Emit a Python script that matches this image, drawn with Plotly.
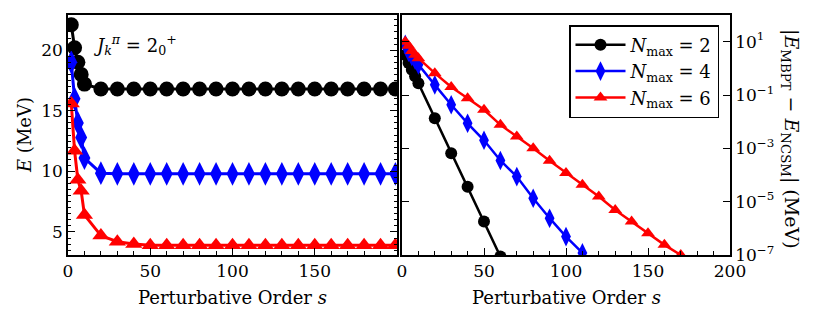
import plotly.graph_objects as go

# ---------------- data ----------------
S_LEFT = [2, 4, 6, 8, 10, 20, 30, 40, 50, 60, 70, 80, 90, 100, 110, 120,
          130, 140, 150, 160, 170, 180, 190, 199]
E_NMAX2 = [22.1, 20.2, 19.0, 18.0, 17.2, 16.8, 16.8, 16.8, 16.8, 16.8, 16.8, 16.8,
           16.8, 16.8, 16.8, 16.8, 16.8, 16.8, 16.8, 16.8, 16.8, 16.8, 16.8, 16.8]
E_NMAX4 = [19.0, 16.0, 14.0, 12.8, 11.1, 9.85, 9.8, 9.8, 9.8, 9.8, 9.8, 9.8,
           9.8, 9.8, 9.8, 9.8, 9.8, 9.8, 9.8, 9.8, 9.8, 9.8, 9.8, 9.8]
E_NMAX6 = [15.6, 11.7, 9.3, 8.4, 6.4, 4.7, 4.2, 4.0, 3.9, 3.9, 3.9, 3.9,
           3.9, 3.9, 3.9, 3.9, 3.9, 3.9, 3.9, 3.9, 3.9, 3.9, 3.9, 3.9]

S_R2 = [2, 4, 6, 8, 10, 20, 30, 40, 50, 60]
D_NMAX2 = [3.16, 1.58, 0.89, 0.50, 0.275, 1.35e-2, 6.6e-4, 3.6e-5, 1.8e-6, 8.7e-8]

S_R4 = [2, 4, 6, 8, 10, 20, 30, 40, 50, 60, 70, 80, 90, 100, 110]
D_NMAX4 = [7.9, 4.0, 2.8, 2.0, 1.35, 0.24, 4.3e-2, 8.7e-3, 2.0e-3, 3.5e-4,
           8.7e-5, 1.35e-5, 2.4e-6, 4.9e-7, 1.2e-7]

S_R6 = [2, 4, 6, 8, 10, 20, 30, 40, 50, 60, 70, 80, 90, 100, 110, 120,
        130, 140, 150, 160, 170]
D_NMAX6 = [10.0, 7.1, 4.5, 3.2, 2.4, 0.66, 0.20, 7.6e-2, 2.8e-2, 7.6e-3, 2.8e-3,
           1.0e-3, 3.4e-4, 1.2e-4, 4.3e-5, 1.55e-5, 4.9e-6, 1.8e-6, 6.6e-7,
           2.4e-7, 1.0e-7]

LEFT_YTICKS = [5, 10, 15, 20]
LEFT_XTICKS = [0, 50, 100, 150]
RIGHT_XTICKS = [0, 50, 100, 150, 200]
RIGHT_YTICKS = [1e1, 1e-1, 1e-3, 1e-5, 1e-7]
RIGHT_YTEXT = ["10<sup>1</sup>", "10<sup>−1</sup>", "10<sup>−3</sup>",
               "10<sup>−5</sup>", "10<sup>−7</sup>"]
LABELS = ["<i>N</i><sub>max</sub> = 2", "<i>N</i><sub>max</sub> = 4",
          "<i>N</i><sub>max</sub> = 6"]

# ---------------- styles ----------------
FONT = "DejaVu Serif"
COLORS = ["black", "blue", "red"]
SYMBOLS = ["circle", "diamond-tall", "triangle-up"]

# the page body adds an 8 px offset; compensate in figure size / margins
OFF = 8
W, H = 814 - OFF, 319 - OFF
PX0, PX1, PY0, PY1 = 68, 730, 15, 255          # plot area in page pixels
ML, MR, MT, MB = PX0 - OFF, 814 - PX1, PY0 - OFF, 319 - PY1
PW, PH = PX1 - PX0, PY1 - PY0


def px(xp):
    return (xp - PX0) / PW


def py(yp):
    return 1 - (yp - PY0) / PH


fig = go.Figure()

left_series = [E_NMAX2, E_NMAX4, E_NMAX6]
for ys, c, sym in zip(left_series, COLORS, SYMBOLS):
    fig.add_trace(go.Scatter(
        x=S_LEFT, y=ys, mode="lines+markers", xaxis="x", yaxis="y",
        line=dict(color=c, width=3),
        marker=dict(color=c, symbol=sym, size=15 if sym != "diamond-tall" else 17,
                    line=dict(width=0)),
        showlegend=False))

right_series = [(S_R2, D_NMAX2), (S_R4, D_NMAX4), (S_R6, D_NMAX6)]
for (xs, ys), c, sym, lab in zip(right_series, COLORS, SYMBOLS, LABELS):
    fig.add_trace(go.Scatter(
        x=xs, y=ys, mode="lines+markers", xaxis="x2", yaxis="y2", name=lab,
        line=dict(color=c, width=2.5),
        marker=dict(color=c, symbol=sym, size=12 if sym != "diamond-tall" else 14,
                    line=dict(width=0)),
        showlegend=True))

dl = px(397)
dr = px(402)

axis_common = dict(showgrid=False, zeroline=False, showline=True, linecolor="black",
                   linewidth=1.5, ticks="inside", tickcolor="black", tickwidth=1.2,
                   ticklen=7, tickfont=dict(family=FONT, size=17, color="black"),
                   automargin=False)

fig.update_layout(
    width=W, height=H,
    margin=dict(l=ML, r=MR, t=MT, b=MB),
    paper_bgcolor="white", plot_bgcolor="white",
    font=dict(family=FONT, size=17, color="black"),
    xaxis=dict(domain=[0, dl], range=[0, 200], tickmode="array", tickvals=LEFT_XTICKS,
               mirror=True, anchor="y",
               minor=dict(dtick=10, ticklen=4, ticks="inside", tickcolor="black"),
               **axis_common),
    yaxis=dict(domain=[0, 1], range=[3.1, 22.9], tickmode="array", tickvals=LEFT_YTICKS,
               mirror="ticks", anchor="x",
               minor=dict(dtick=0.5, ticklen=3.5, ticks="inside", tickcolor="black"),
               **axis_common),
    xaxis2=dict(domain=[dr, 1], range=[0, 200], tickmode="array", tickvals=RIGHT_XTICKS,
                mirror=True, anchor="y2",
                minor=dict(dtick=10, ticklen=4, ticks="inside", tickcolor="black"),
                **axis_common),
    yaxis2=dict(domain=[0, 1], type="log", range=[-7, 2], tickmode="array",
                tickvals=RIGHT_YTICKS, ticktext=RIGHT_YTEXT, side="right",
                mirror="ticks", anchor="x2", **axis_common),
    legend=dict(x=px(719), y=py(25),
                xanchor="right", yanchor="top", bgcolor="white",
                bordercolor="black", borderwidth=1.5,
                font=dict(family=FONT, size=18, color="black"),
                itemwidth=50, tracegroupgap=0),
)

TITLE_FONT = dict(family=FONT, size=18, color="black")
# axis titles as annotations
fig.add_annotation(text="Perturbative Order <i>s</i>", xref="paper", yref="paper",
                   x=px(232), y=py(297), xanchor="center", yanchor="middle",
                   showarrow=False, font=TITLE_FONT)
fig.add_annotation(text="Perturbative Order <i>s</i>", xref="paper", yref="paper",
                   x=px(566), y=py(297), xanchor="center", yanchor="middle",
                   showarrow=False, font=TITLE_FONT)
fig.add_annotation(text="<i>E</i> (MeV)", xref="paper", yref="paper",
                   x=px(24), y=py(135), xanchor="center", yanchor="middle",
                   textangle=-90, showarrow=False, font=TITLE_FONT)
fig.add_annotation(text="|<i>E</i><sub>MBPT</sub> − <i>E</i><sub>NCSM</sub>| (MeV)",
                   xref="paper", yref="paper",
                   x=px(791), y=py(139), xanchor="center", yanchor="middle",
                   textangle=90, showarrow=False,
                   font=dict(family=FONT, size=19, color="black"))
fig.add_annotation(text="<i>J</i><sub><i>k</i></sub><sup><i>π</i></sup> = 2<sub>0</sub><sup>+</sup>",
                   xref="paper", yref="paper",
                   x=px(135), y=py(45), xanchor="center", yanchor="middle",
                   showarrow=False, font=TITLE_FONT)

fig.write_html("out.html")
